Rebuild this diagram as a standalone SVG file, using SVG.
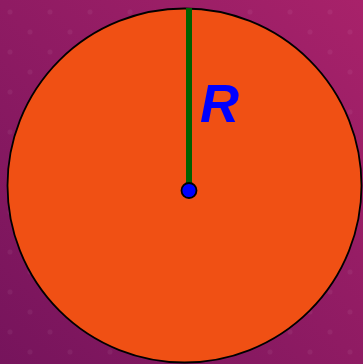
<svg xmlns="http://www.w3.org/2000/svg" width="363" height="364" viewBox="0 0 363 364">
<defs>
<linearGradient id="bg" x1="0" y1="1" x2="1" y2="0">
<stop offset="0" stop-color="#76145c"/>
<stop offset="1" stop-color="#a8226a"/>
</linearGradient>
<pattern id="dots" width="40" height="40" patternUnits="userSpaceOnUse">
<circle cx="10" cy="12" r="2.5" fill="#ffffff" fill-opacity="0.05"/>
<circle cx="30" cy="32" r="2.5" fill="#ffffff" fill-opacity="0.05"/>
</pattern>
<style>
.disc{fill:#f05014;stroke:#000;stroke-width:1.8}
.radius{stroke:#006000;stroke-width:6}
.center{fill:#0000ff;stroke:#000;stroke-width:1.8}
.label{font-family:"Liberation Sans",Arial,sans-serif;font-weight:bold;font-style:italic;font-size:54px;fill:#0000ff}
</style>
</defs>
<rect width="363" height="364" fill="url(#bg)"/>
<rect width="363" height="364" fill="url(#dots)"/>
<g id="circle"><circle class="disc" cx="184.5" cy="185.5" r="177"/></g>
<g id="connectors"><line class="radius" x1="189" y1="8" x2="189" y2="190"/></g>
<g id="center"><circle class="center" cx="189" cy="190.5" r="7.5"/></g>
<g id="label"><text class="label" x="200" y="122">R</text></g>
</svg>
